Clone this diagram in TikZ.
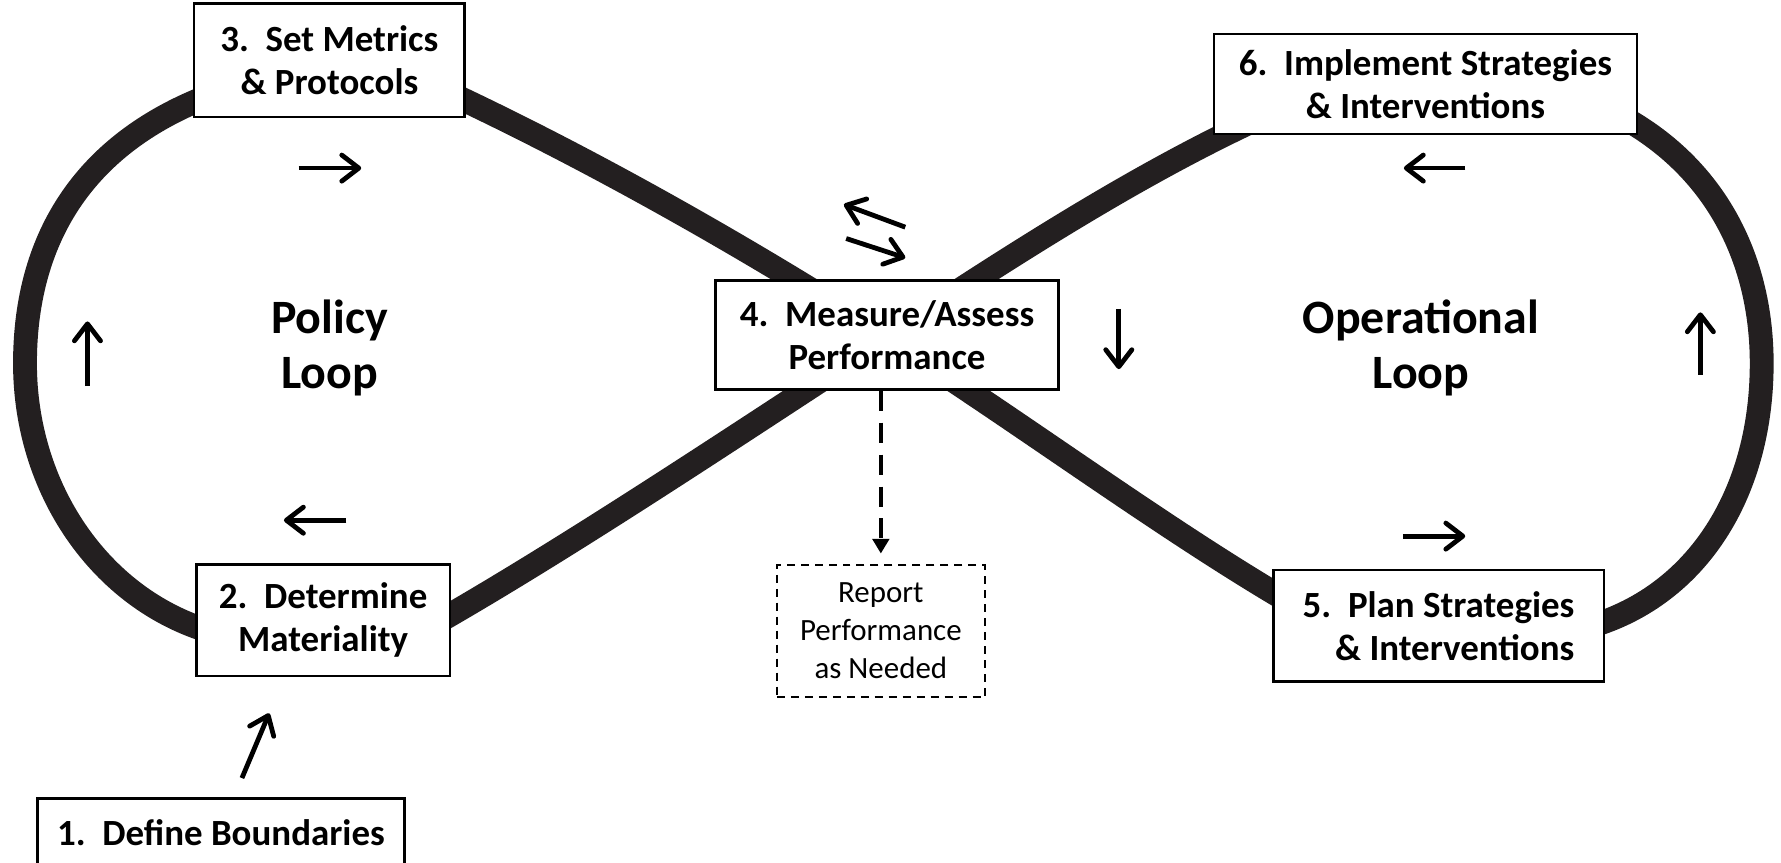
\documentclass[tikz,border=0pt]{standalone}
\usepackage{fontspec}
\setmainfont{Carlito}
\usetikzlibrary{arrows.meta}
\definecolor{loopgray}{HTML}{231F20}
\begin{document}
\begin{tikzpicture}[x=0.02cm,y=-0.02cm,
  loopline/.style={line width=0.42cm, draw=loopgray, line join=round},
  stepbox/.style={draw=black, line width=1.2pt, fill=white,
    font=\fontsize{18.5}{21.6}\selectfont\bfseries, align=center, inner sep=0pt},
  reportbox/.style={draw=black, line width=1pt, dash pattern=on 4pt off 3pt, fill=white,
    font=\fontsize{15.5}{19}\selectfont, align=center, inner sep=0pt},
  flow/.style={line width=2.4pt, -{Straight Barb[length=3mm,width=4.6mm,line width=2.4pt,round]}},
  reportarrow/.style={line width=2.2pt, dash pattern=on 10pt off 6pt,
    -{Triangle[length=2.6mm,width=2.9mm]}, shorten >=5pt},
  looplabel/.style={font=\fontsize{24}{27.5}\selectfont\bfseries, align=center},
]
\useasboundingbox (0,0) rectangle (1568,759);

% figure-eight loop
\draw[loopline] (180,86) .. controls (65,132) and (22,220) .. (22,320)
  .. controls (22,430) and (88,527) .. (185,556) -- (390,545)
  .. controls (520,470) and (680,362) .. (781,297)
  .. controls (880,232) and (990,160) .. (1100,108) -- (1430,104)
  .. controls (1512,150) and (1551,230) .. (1551,320)
  .. controls (1551,430) and (1498,520) .. (1405,550) -- (1130,527)
  .. controls (1020,462) and (900,373) .. (781,297)
  .. controls (680,232) and (540,150) .. (400,84) -- cycle;

% boxes
\node[stepbox, minimum width=4.76cm, minimum height=2.0cm] (b3) at (290,53) {3.~~Set Metrics\\\& Protocols};
\node[stepbox, minimum width=7.44cm, minimum height=1.76cm] (b6) at (1255,74) {6.~~Implement Strategies\\\& Interventions};
\node[stepbox, minimum width=6.04cm, minimum height=1.92cm] (b4) at (781,295) {4.~~Measure/Assess\\Performance};
\node[stepbox, minimum width=4.46cm, minimum height=1.96cm] (b2) at (284.5,546) {2.~~Determine\\Materiality};
\node[stepbox, minimum width=5.82cm, minimum height=1.96cm, align=right] (b5) at (1266.5,551) {5.~~Plan Strategies\\\& Interventions};
\node[stepbox, minimum width=6.46cm, minimum height=1.2cm] (b1) at (194.5,733) {1.~~Define Boundaries};
\node[reportbox, minimum width=3.66cm, minimum height=2.34cm] (rep) at (775.5,555.5) {Report\\Performance\\as Needed};

% loop labels
\node[looplabel] (pol) at (290,306) {Policy\\Loop};
\node[looplabel] (ops) at (1251,306) {Operational\\Loop};

% report connector
\draw[reportarrow] (b4.south -| rep.north) -- (rep.north);

% direction arrows
\coordinate (a1s) at (263,148); \coordinate (a1e) at (318,148);
\coordinate (a2s) at (77,340);  \coordinate (a2e) at (77,283);
\coordinate (a3s) at (305,458); \coordinate (a3e) at (250,458);
\coordinate (a4s) at (213,685); \coordinate (a4e) at (237,628);
\coordinate (a5s) at (797,200); \coordinate (a5e) at (743,180);
\coordinate (a6s) at (745,210); \coordinate (a6e) at (797,227);
\coordinate (a7s) at (985,272); \coordinate (a7e) at (985,325);
\coordinate (a8s) at (1290,148); \coordinate (a8e) at (1236,148);
\coordinate (a9s) at (1497,330); \coordinate (a9e) at (1497,275);
\coordinate (a10s) at (1235,472); \coordinate (a10e) at (1290,472);
\foreach \i in {1,...,10} \draw[flow] (a\i s) -- (a\i e);
\end{tikzpicture}
\end{document}
